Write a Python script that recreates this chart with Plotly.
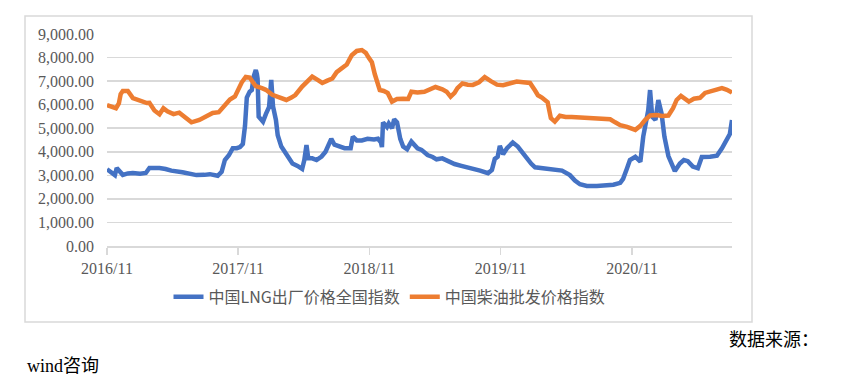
import plotly.graph_objects as go

# ---- data ----
lng_dates = [
    "2016-11-01", "2016-11-12", "2016-11-23", "2016-11-28", "2016-12-07", "2016-12-15", "2016-12-29",
    "2017-01-12", "2017-02-01", "2017-02-17", "2017-02-27", "2017-03-13", "2017-03-27", "2017-04-13",
    "2017-04-29", "2017-05-30", "2017-06-19", "2017-07-08", "2017-07-30", "2017-08-14", "2017-09-05",
    "2017-09-16", "2017-09-25", "2017-10-06", "2017-10-17", "2017-10-28", "2017-11-06", "2017-11-14",
    "2017-11-20", "2017-11-25", "2017-12-03", "2017-12-09", "2017-12-14", "2017-12-20", "2017-12-23",
    "2017-12-25", "2017-12-28", "2018-01-09", "2018-01-17", "2018-01-26", "2018-02-01", "2018-02-06",
    "2018-02-14", "2018-02-19", "2018-03-01", "2018-03-15", "2018-03-23", "2018-04-01", "2018-04-15",
    "2018-04-28", "2018-05-04", "2018-05-10", "2018-05-15", "2018-05-26", "2018-06-07", "2018-06-21",
    "2018-07-02", "2018-07-13", "2018-07-18", "2018-07-27", "2018-08-10", "2018-08-24", "2018-09-10",
    "2018-09-16", "2018-09-27", "2018-10-11", "2018-10-27", "2018-11-14", "2018-11-25", "2018-12-03",
    "2018-12-06", "2018-12-09", "2018-12-20", "2018-12-25", "2019-01-03", "2019-01-09", "2019-01-17",
    "2019-01-26", "2019-02-03", "2019-02-14", "2019-02-26", "2019-03-15", "2019-03-26", "2019-04-12",
    "2019-04-26", "2019-05-07", "2019-05-23", "2019-06-12", "2019-06-26", "2019-07-15", "2019-08-02",
    "2019-08-16", "2019-09-05", "2019-09-27", "2019-10-08", "2019-10-16", "2019-10-24", "2019-10-30",
    "2019-11-08", "2019-11-19", "2019-12-05", "2019-12-19", "2019-12-30", "2020-01-14", "2020-01-25",
    "2020-02-05", "2020-02-18", "2020-03-03", "2020-03-25", "2020-04-20", "2020-05-12", "2020-05-26",
    "2020-06-09", "2020-06-28", "2020-07-26", "2020-08-18", "2020-09-10", "2020-09-29", "2020-10-07",
    "2020-10-18", "2020-10-26", "2020-11-10", "2020-11-24", "2020-12-02", "2020-12-10", "2020-12-16",
    "2020-12-21", "2020-12-27", "2021-01-05", "2021-01-13", "2021-01-22", "2021-01-30", "2021-02-10",
    "2021-02-20", "2021-02-28", "2021-03-14", "2021-03-25", "2021-04-05", "2021-04-19", "2021-05-03",
    "2021-05-14", "2021-06-06", "2021-06-25", "2021-07-09", "2021-07-23", "2021-07-31", "2021-08-06",
]
lng_values = [
    3260, 3120, 3010, 3310, 3150, 3020, 3080,
    3100, 3070, 3100, 3310, 3320, 3310, 3270,
    3200, 3130, 3070, 3010, 3020, 3050, 2980,
    3150, 3650, 3850, 4150, 4150, 4200, 4330,
    5100, 6300, 6550, 6620, 7190, 7470, 7300,
    7100, 5490, 5280, 5600, 5900, 7050, 5920,
    5350, 4700, 4220, 3860, 3720, 3500, 3400,
    3270, 3650, 4290, 3720, 3720, 3650, 3800,
    4000, 4450, 4550, 4300, 4200, 4150, 4150,
    4640, 4480, 4480, 4550, 4520, 4550, 4400,
    4200, 5250, 5050, 5200, 5000, 5380, 5250,
    4550, 4220, 4110, 4430, 4150, 4080, 3860,
    3780, 3680, 3720, 3560, 3480, 3400, 3340,
    3300, 3200, 3090, 3230, 3700, 3790, 4250,
    3900, 4150, 4390, 4220, 4000, 3700, 3500,
    3340, 3320, 3300, 3230, 3200, 3010, 2780,
    2620, 2550, 2550, 2560, 2600, 2680, 2850,
    3300, 3650, 3790, 3580, 4640, 5200, 5770,
    6620, 5490, 5350, 6200, 5630, 4640, 3820,
    3500, 3180, 3500, 3650, 3600, 3370, 3300,
    3780, 3790, 3830, 4150, 4500, 4750, 5350,
]

diesel_dates = [
    "2016-11-01", "2016-11-17", "2016-11-26", "2016-12-04", "2016-12-09", "2016-12-15", "2016-12-29",
    "2017-01-12", "2017-02-01", "2017-02-20", "2017-02-27", "2017-03-13", "2017-03-27", "2017-04-07",
    "2017-04-18", "2017-05-05", "2017-05-21", "2017-06-08", "2017-06-24", "2017-07-16", "2017-08-05",
    "2017-08-22", "2017-09-08", "2017-09-22", "2017-10-09", "2017-10-23", "2017-10-31", "2017-11-11",
    "2017-11-22", "2017-12-03", "2017-12-12", "2017-12-20", "2018-01-06", "2018-01-17", "2018-02-04",
    "2018-02-25", "2018-03-15", "2018-03-29", "2018-04-09", "2018-04-28", "2018-05-12", "2018-05-26",
    "2018-06-10", "2018-06-23", "2018-07-07", "2018-07-21", "2018-08-02", "2018-08-19", "2018-08-30",
    "2018-09-13", "2018-09-27", "2018-10-11", "2018-10-22", "2018-10-30", "2018-11-08", "2018-11-16",
    "2018-11-22", "2018-11-30", "2018-12-11", "2018-12-22", "2019-01-03", "2019-01-17", "2019-02-03",
    "2019-02-17", "2019-02-26", "2019-03-15", "2019-04-03", "2019-04-17", "2019-05-04", "2019-05-23",
    "2019-06-04", "2019-06-15", "2019-06-26", "2019-07-04", "2019-07-18", "2019-08-02", "2019-08-16",
    "2019-09-02", "2019-09-18", "2019-10-05", "2019-10-22", "2019-11-08", "2019-11-27", "2019-12-16",
    "2020-01-03", "2020-01-22", "2020-02-05", "2020-02-13", "2020-02-24", "2020-03-03", "2020-03-11",
    "2020-03-20", "2020-03-31", "2020-04-14", "2020-04-30", "2020-05-17", "2020-06-09", "2020-07-12",
    "2020-08-04", "2020-09-01", "2020-09-15", "2020-09-29", "2020-10-18", "2020-11-10", "2020-11-24",
    "2020-12-07", "2020-12-21", "2021-01-08", "2021-01-24", "2021-02-10", "2021-02-23", "2021-03-05",
    "2021-03-17", "2021-03-28", "2021-04-08", "2021-04-22", "2021-05-09", "2021-05-23", "2021-06-11",
    "2021-06-25", "2021-07-09", "2021-07-23", "2021-08-06",
]
diesel_values = [
    5980, 5880, 5850, 6050, 6450, 6580, 6580,
    6280, 6150, 6070, 6080, 5750, 5590, 5850,
    5720, 5600, 5660, 5430, 5250, 5350, 5500,
    5650, 5680, 5950, 6220, 6350, 6650, 6950,
    7180, 7150, 6950, 6790, 6700, 6630, 6420,
    6280, 6200, 6300, 6410, 6770, 6950, 7190,
    7050, 6920, 7020, 7110, 7380, 7550, 7700,
    8100, 8280, 8320, 8200, 8000, 7800, 7300,
    7050, 6620, 6580, 6500, 6130, 6240, 6250,
    6240, 6550, 6520, 6550, 6650, 6750, 6650,
    6550, 6340, 6500, 6700, 6900, 6850, 6840,
    6950, 7170, 7000, 6850, 6830, 6900, 6980,
    6950, 6920, 6600, 6400, 6300, 6200, 6100,
    5430, 5280, 5530, 5480, 5480, 5460, 5420,
    5390, 5380, 5250, 5130, 5060, 4930, 5100,
    5350, 5540, 5560, 5520, 5540, 5850, 6200,
    6370, 6250, 6130, 6250, 6290, 6500, 6580,
    6620, 6700, 6630, 6510,
]

series_names = ["中国LNG出厂价格全国指数", "中国柴油批发价格指数"]
x_tick_dates = ["2016-11-01", "2017-11-01", "2018-11-01", "2019-11-01", "2020-11-01"]
x_tick_labels = ["2016/11", "2017/11", "2018/11", "2019/11", "2020/11"]
y_tick_values = [0, 1000, 2000, 3000, 4000, 5000, 6000, 7000, 8000, 9000]
x_range = ["2016-11-01", "2021-08-06"]
source_text = "数据来源："
source_name = "wind咨询"

BLUE = "#4472C4"
ORANGE = "#ED7D31"
GRID = "#D9D9D9"
LABEL = "#595959"
SERIF = "'Liberation Serif', 'Times New Roman', 'Noto Sans CJK SC', serif"

fig = go.Figure()
fig.add_trace(go.Scatter(x=lng_dates, y=lng_values, mode="lines", name=series_names[0],
                         line=dict(color=BLUE, width=4.5)))
fig.add_trace(go.Scatter(x=diesel_dates, y=diesel_values, mode="lines", name=series_names[1],
                         line=dict(color=ORANGE, width=4.5)))

fig.update_layout(
    width=844, height=388,
    margin=dict(l=107, r=112, t=34, b=142),
    paper_bgcolor="white", plot_bgcolor="white",
    hovermode=False,
    showlegend=True,
    legend=dict(orientation="h", x=0.452, xanchor="center", y=-0.24, yanchor="middle",
                font=dict(family="'Noto Sans CJK SC', 'Liberation Serif'", size=16, color=LABEL),
                itemwidth=30, tracegroupgap=0, bgcolor="rgba(0,0,0,0)"),
    xaxis=dict(type="date", range=x_range, tickvals=x_tick_dates, ticktext=x_tick_labels,
               showgrid=False, showline=True, linecolor=GRID, linewidth=1.5,
               ticks="outside", ticklen=7, tickcolor=GRID, tickwidth=1.5,
               tickfont=dict(family=SERIF, size=16, color=LABEL), zeroline=False),
    yaxis=dict(range=[0, 9000], tickvals=y_tick_values, tickformat=",.2f",
               showgrid=True, gridcolor=GRID, gridwidth=1.5, zeroline=False,
               showline=False, ticks="", ticklabelstandoff=12,
               tickfont=dict(family=SERIF, size=16, color=LABEL)),
    shapes=[dict(type="rect", xref="paper", yref="paper",
                 x0=-0.1312, x1=1.032, y0=-0.3585, y1=1.085,
                 line=dict(color=GRID, width=1.5), fillcolor="rgba(0,0,0,0)", layer="below")],
    annotations=[
        dict(text=source_text, xref="paper", yref="paper", x=1.142, y=-0.443,
             xanchor="right", yanchor="middle", showarrow=False,
             font=dict(family=SERIF, size=18, color="black")),
        dict(text=source_name, xref="paper", yref="paper", x=-0.131, y=-0.566,
             xanchor="left", yanchor="middle", showarrow=False,
             font=dict(family=SERIF, size=18, color="black")),
    ],
)

fig.write_html("out.html", config={"displayModeBar": False, "staticPlot": True},
               post_script="document.body.style.margin='0';document.body.style.padding='0';")
